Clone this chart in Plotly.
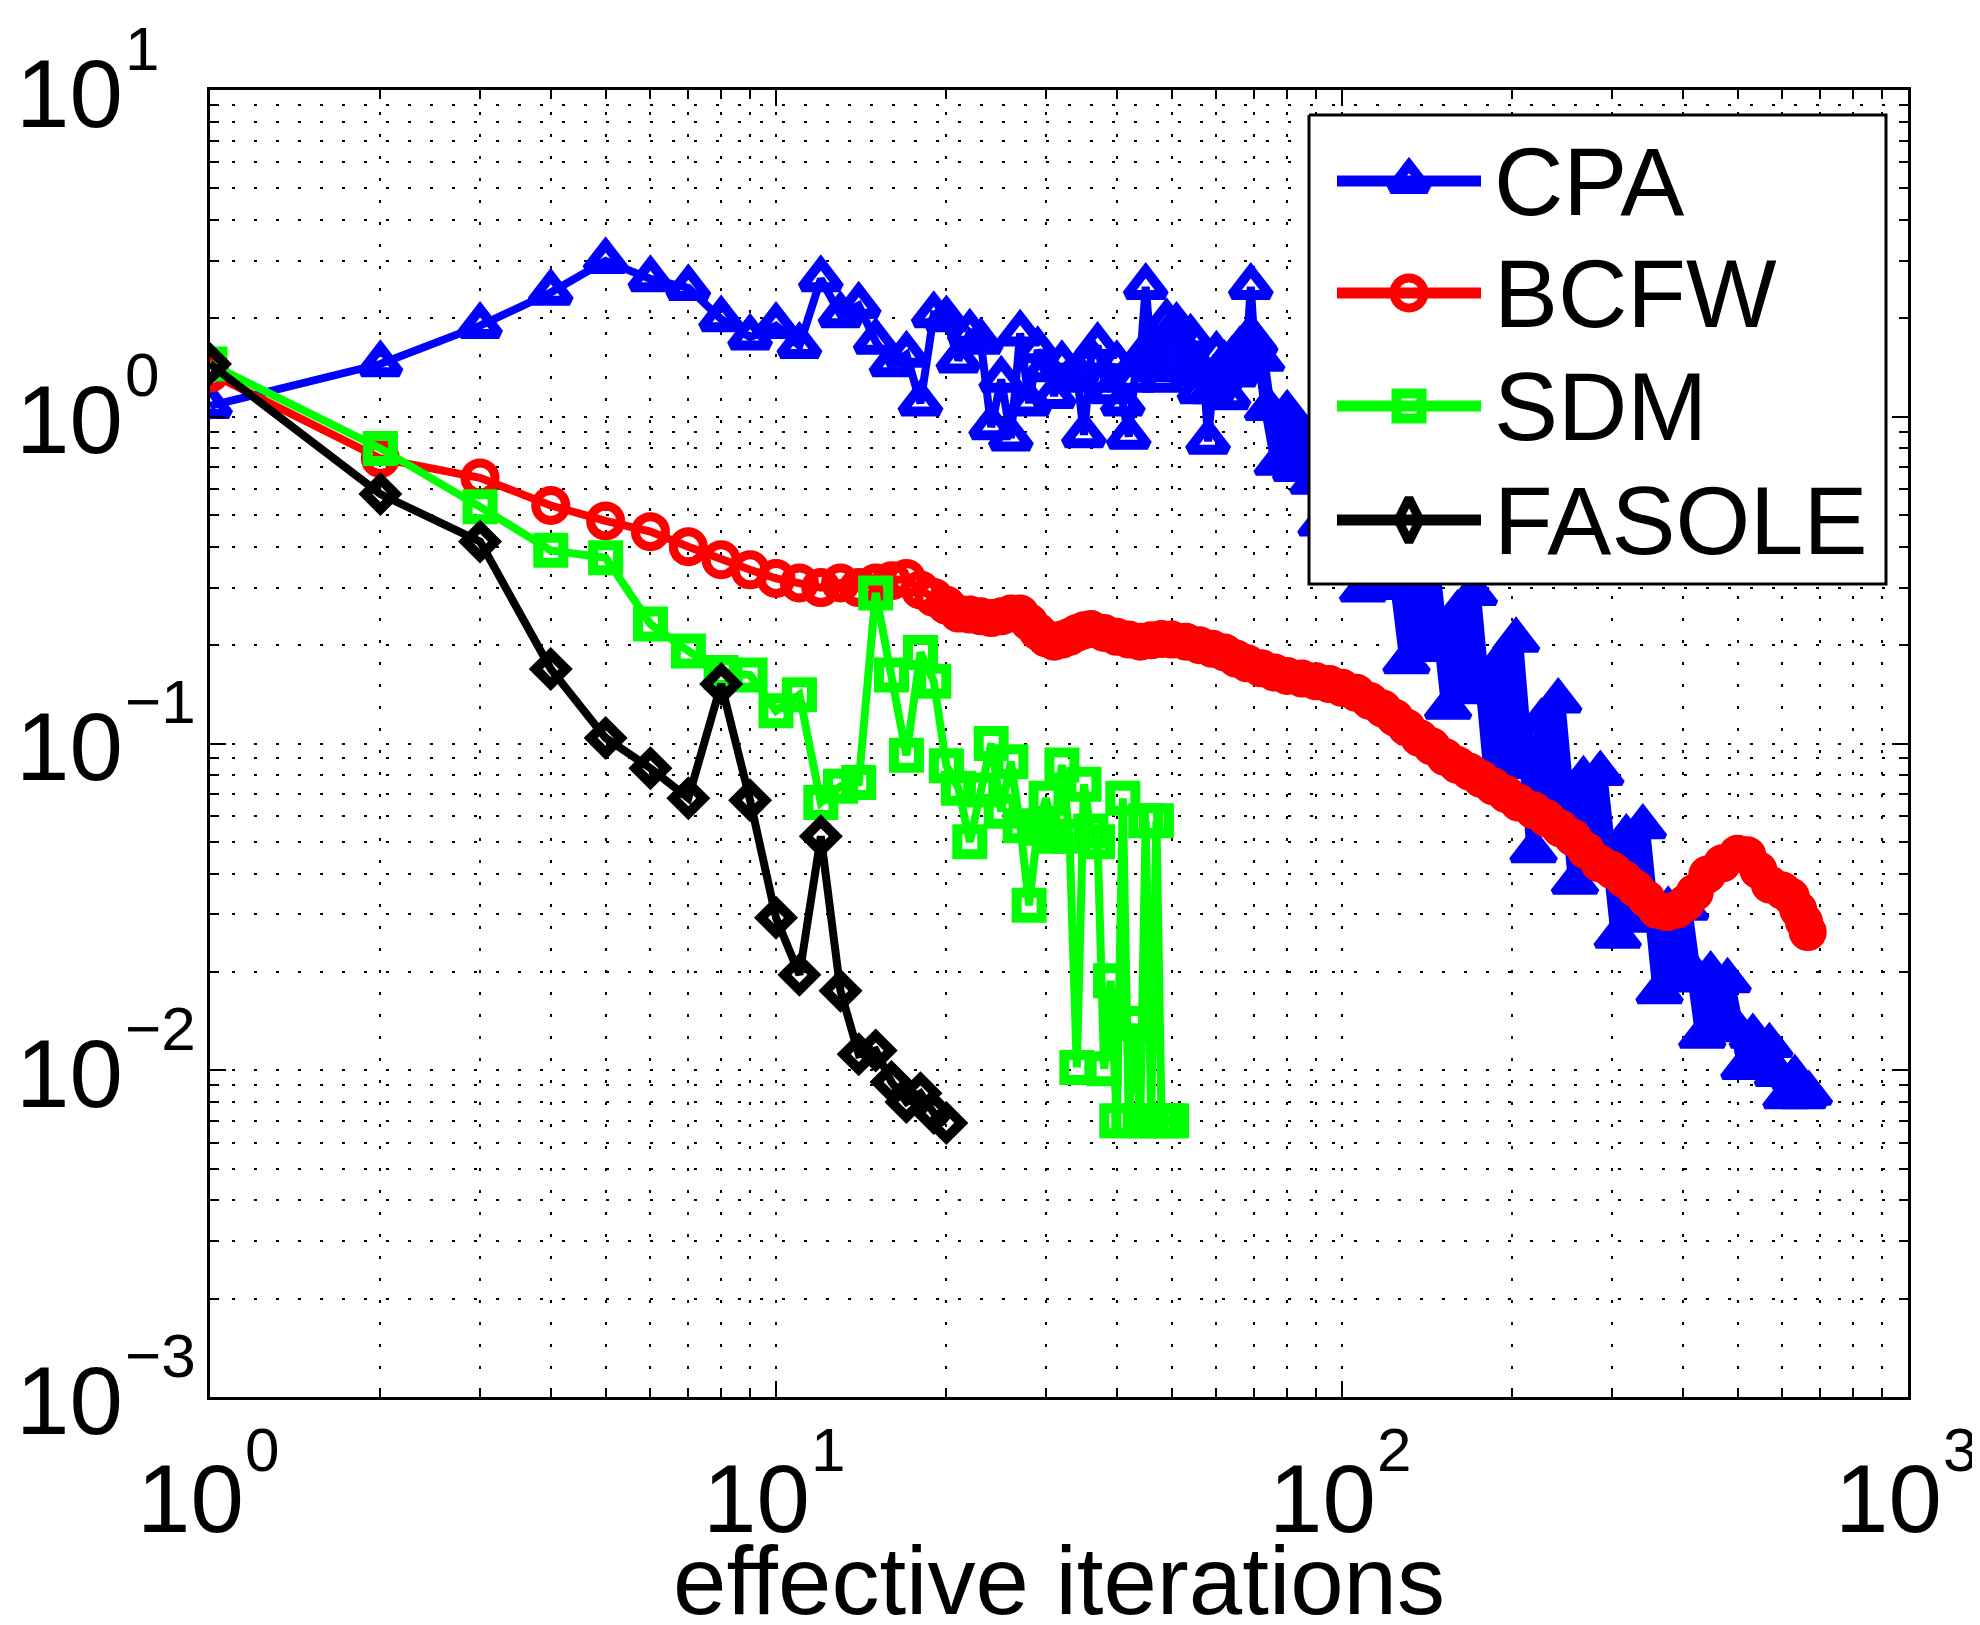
import math
import plotly.graph_objects as go

# ---------------------------------------------------------------------------
# Data (log-log, "effective iterations")
# ---------------------------------------------------------------------------
CPA_X = [1, 2, 3, 4, 5, 6, 7, 8, 9, 10, 11, 12, 13, 14, 15, 16, 17, 18, 19, 20,
         21, 22, 23, 24, 25, 26, 27, 28, 29, 30, 31, 32, 33, 34, 35, 36, 37, 38, 39, 40,
         41, 42, 43, 44, 45, 46, 47, 48, 49, 50, 51, 52, 53, 54, 55, 56, 57, 58, 59, 60,
         61, 62, 63, 64, 65, 66, 67, 68, 69, 70,
         72, 74, 77, 80, 83, 86, 89, 92, 95, 98, 102, 105, 109, 113, 117, 121, 125,
         130, 134, 139, 144, 149, 154, 160, 165, 171, 177, 183, 190, 196, 203, 210,
         218, 225, 233, 241, 250, 258, 267, 277, 286, 296, 307, 318, 329, 340, 352,
         364, 377, 390, 404, 418, 433, 448, 463, 480, 496, 514, 532, 550, 569, 589,
         610, 631, 653, 668]
CPA_Y = [1.08, 1.45, 1.90, 2.40, 3.00, 2.64, 2.48, 1.99, 1.75, 1.90,
         1.65, 2.64, 2.05, 2.19, 1.70, 1.45, 1.55, 1.10, 2.05, 1.99,
         1.49, 1.81, 1.70, 0.93, 1.30, 0.86, 1.80, 1.10, 1.60, 1.40,
         1.16, 1.45, 1.30, 1.36, 0.88, 1.50, 1.65, 1.30, 1.20, 1.45,
         1.10, 0.87, 1.30, 1.50, 2.50, 1.60, 1.40, 1.30, 1.95, 1.70,
         1.90, 1.50, 1.40, 1.75, 1.45, 1.20, 1.35, 0.84, 1.20, 1.55,
         1.30, 1.45, 1.15, 1.50, 1.35, 1.60, 1.40, 1.70, 2.50, 1.70,
         1.50, 1.06, 0.72, 1.03, 0.69, 0.87, 0.63, 0.47, 0.63, 0.45, 0.63, 0.44, 0.295,
         0.45, 0.30, 0.494, 0.318, 0.178, 0.337, 0.194, 0.382, 0.221, 0.129, 0.251,
         0.144, 0.288, 0.156, 0.081, 0.177, 0.085, 0.207, 0.098, 0.047, 0.117, 0.058,
         0.135, 0.068, 0.0376, 0.078, 0.0425, 0.081, 0.046, 0.0257, 0.0518, 0.0288,
         0.0556, 0.0307, 0.0174, 0.0311, 0.0189, 0.0313, 0.0197, 0.0127, 0.0197,
         0.0133, 0.0188, 0.0134, 0.0102, 0.0127, 0.0103, 0.0119, 0.0097, 0.0083,
         0.0095, 0.0083, 0.0085]

BCFW_X = [1, 2, 3, 4, 5, 6, 7, 8, 9, 10, 11, 12, 13, 14, 15, 16, 17, 18, 19, 20,
          21, 22, 23, 24, 25, 26, 27, 28, 29, 30, 31, 32, 33, 34, 35, 36, 38, 40, 42,
          44, 46, 48, 50, 53, 56, 59, 62, 65, 68, 72, 76, 80, 85, 90, 95, 100, 106,
          112, 118, 124, 130, 137, 144, 152, 160, 168, 176, 185, 195, 205, 218, 230,
          243, 256, 270, 285, 300, 315, 330, 345, 360, 375, 390, 405, 420, 442, 470,
          500, 520, 544, 570, 600, 621, 640, 655, 665]
BCFW_Y = [1.36, 0.745, 0.65, 0.535, 0.48, 0.445, 0.40, 0.365, 0.34, 0.32,
          0.31, 0.30, 0.31, 0.30, 0.31, 0.315, 0.32, 0.295, 0.28, 0.265,
          0.25, 0.248, 0.245, 0.242, 0.245, 0.25, 0.25, 0.235, 0.22, 0.21, 0.205,
          0.208, 0.212, 0.218, 0.222, 0.224, 0.218, 0.212, 0.208, 0.205, 0.207,
          0.209, 0.208, 0.205, 0.20, 0.195, 0.19, 0.182, 0.176, 0.17, 0.165, 0.161,
          0.158, 0.155, 0.152, 0.148, 0.143, 0.135, 0.128, 0.12, 0.112, 0.104,
          0.098, 0.091, 0.086, 0.082, 0.078, 0.074, 0.070, 0.066, 0.0625, 0.059,
          0.055, 0.0515, 0.047, 0.043, 0.041, 0.0385, 0.036, 0.0335, 0.031, 0.0305,
          0.031, 0.0325, 0.035, 0.0397, 0.043, 0.046, 0.0455, 0.041, 0.037, 0.0355,
          0.034, 0.031, 0.0285, 0.0265]

SDM_X = [1, 2, 3, 4, 5, 6, 7, 8, 9, 10, 11, 12, 13, 14, 15, 16, 17, 18, 19, 20,
         21, 22, 23, 24, 25, 26, 27, 28, 29, 30, 31, 32, 33, 34, 35, 36, 37, 38, 39,
         40, 41, 42, 43, 44, 45, 46, 47, 48, 49, 50]
SDM_Y = [1.45, 0.80, 0.53, 0.39, 0.37, 0.232, 0.192, 0.165, 0.162, 0.126,
         0.141, 0.066, 0.074, 0.076, 0.289, 0.162, 0.092, 0.19, 0.155, 0.0855,
         0.073, 0.050, 0.072, 0.100, 0.062, 0.088, 0.056, 0.032, 0.055, 0.068,
         0.052, 0.086, 0.052, 0.0102, 0.075, 0.054, 0.050, 0.0101, 0.0188, 0.0070,
         0.068, 0.0070, 0.0139, 0.0070, 0.058, 0.0070, 0.058, 0.0070, 0.0070, 0.0070]

FASOLE_X = [1, 2, 3, 4, 5, 6, 7, 8, 9, 10, 11, 12, 13, 14, 15, 16, 17, 18, 19, 20]
FASOLE_Y = [1.45, 0.58, 0.415, 0.169, 0.104, 0.084, 0.068, 0.152, 0.067, 0.0293,
            0.0196, 0.052, 0.0175, 0.0112, 0.0115, 0.0092, 0.0080, 0.0085, 0.0074,
            0.0069]

X_TICKS = [1, 10, 100, 1000]
X_EXPONENTS = ["0", "1", "2", "3"]
Y_TICKS = [0.001, 0.01, 0.1, 1, 10]
Y_EXPONENTS = ["−3", "−2", "−1", "0", "1"]
X_MINOR = [2, 3, 4, 5, 6, 7, 8, 9, 20, 30, 40, 50, 60, 70, 80, 90,
           200, 300, 400, 500, 600, 700, 800, 900]
Y_MINOR = [0.002, 0.003, 0.004, 0.005, 0.006, 0.007, 0.008, 0.009,
           0.02, 0.03, 0.04, 0.05, 0.06, 0.07, 0.08, 0.09,
           0.2, 0.3, 0.4, 0.5, 0.6, 0.7, 0.8, 0.9,
           2, 3, 4, 5, 6, 7, 8, 9]

LABELS = ["CPA", "BCFW", "SDM", "FASOLE"]
X_TITLE = "effective iterations"

BLUE, RED, GREEN, BLACK = "#0000ff", "#ff0000", "#00ff00", "#000000"
FONT = "Liberation Sans, Arial, Helvetica, sans-serif"
BIG, SUP = 96, 62
LW = 8

fig = go.Figure()


def add_series(x, y, color, symbol, size, mwidth, filled=False, lw=LW):
    fig.add_trace(go.Scatter(
        x=x, y=y, mode="lines+markers", showlegend=False,
        line=dict(color=color, width=lw),
        marker=dict(symbol=symbol, size=size,
                    color=color if filled else "rgba(0,0,0,0)",
                    line=dict(color=color, width=mwidth)),
        hoverinfo="x+y",
    ))


# where the markers pile up into a solid band (drawn with filled markers)
cpa_cut = CPA_X.index(70) + 1
bcfw_cut = BCFW_X.index(20) + 1

add_series(CPA_X[:cpa_cut], CPA_Y[:cpa_cut], BLUE, "triangle-up", 33, 10)
add_series(CPA_X[cpa_cut - 1:], CPA_Y[cpa_cut - 1:], BLUE, "triangle-up", 38, 6,
           filled=True, lw=14)
add_series(BCFW_X[:bcfw_cut], BCFW_Y[:bcfw_cut], RED, "circle", 30, 9)
add_series(BCFW_X[bcfw_cut - 1:], BCFW_Y[bcfw_cut - 1:], RED, "circle", 31, 7,
           filled=True)
add_series(SDM_X, SDM_Y, GREEN, "square", 25, 10)
add_series(FASOLE_X, FASOLE_Y, BLACK, "diamond", 23, 10)

# ---------------------------------------------------------------------------
# MATLAB-style legend box, drawn on an overlay axis in pixel units
# ---------------------------------------------------------------------------
L_LEFT, L_RIGHT, L_TOP, L_BOT = 1301, 1878, 107, 576
ROWS = [173, 285, 398, 512]
SEG = (1329, 1473)
LEG_MARK = [("triangle-up", 32, 10), ("circle", 30, 9),
            ("square", 25, 10), ("diamond-tall", 31, 9)]
LEG_COL = [BLUE, RED, GREEN, BLACK]

ov = dict(xaxis="x2", yaxis="y2", showlegend=False, hoverinfo="skip")
fig.add_trace(go.Scatter(
    x=[L_LEFT, L_RIGHT, L_RIGHT, L_LEFT, L_LEFT],
    y=[L_TOP, L_TOP, L_BOT, L_BOT, L_TOP],
    mode="lines", fill="toself", fillcolor="white",
    line=dict(color="black", width=3), **ov))
for row, name, col, (sym, sz, mw) in zip(ROWS, LABELS, LEG_COL, LEG_MARK):
    fig.add_trace(go.Scatter(x=list(SEG), y=[row, row], mode="lines",
                             line=dict(color=col, width=11), **ov))
    fig.add_trace(go.Scatter(x=[(SEG[0] + SEG[1]) / 2], y=[row], mode="markers",
                             marker=dict(symbol=sym, size=sz, color="rgba(0,0,0,0)",
                                         line=dict(color=col, width=mw)), **ov))
    fig.add_annotation(x=1484, y=row, xref="x2", yref="y2", text=name,
                       showarrow=False, xanchor="left", yanchor="middle",
                       font=dict(family=FONT, size=BIG, color="black"))

# ---------------------------------------------------------------------------
# MATLAB-style "10^n" tick labels (large raised exponent)
# ---------------------------------------------------------------------------
txt = dict(showarrow=False, yanchor="middle")
for v, e in zip(X_TICKS, X_EXPONENTS):
    fig.add_annotation(x=math.log10(v), xref="x", y=0, yref="paper", text="10",
                       xanchor="right", xshift=36, yshift=-101,
                       font=dict(family=FONT, size=BIG, color="black"), **txt)
    fig.add_annotation(x=math.log10(v), xref="x", y=0, yref="paper", text=e,
                       xanchor="left", xshift=33, yshift=-52,
                       font=dict(family=FONT, size=SUP, color="black"), **txt)
for v, e in zip(Y_TICKS, Y_EXPONENTS):
    fig.add_annotation(x=0, xref="paper", y=math.log10(v), yref="y", text="10",
                       xanchor="right", xshift=-85, yshift=-3,
                       font=dict(family=FONT, size=BIG, color="black"), **txt)
    fig.add_annotation(x=0, xref="paper", y=math.log10(v), yref="y", text=e,
                       xanchor="left", xshift=-87, yshift=42,
                       font=dict(family=FONT, size=SUP, color="black"), **txt)
fig.add_annotation(x=0.5, xref="paper", y=0, yref="paper", text=X_TITLE,
                   xanchor="center", yshift=-183,
                   font=dict(family=FONT, size=BIG, color="black"), **txt)

grid = dict(showgrid=True, gridcolor="black", gridwidth=2, griddash="3px,19px")
minor_common = dict(ticks="inside", ticklen=9, tickwidth=2, tickcolor="black", **grid)
axis_common = dict(
    ticks="inside", ticklen=16, tickwidth=2, tickcolor="black",
    showline=True, linecolor="black", linewidth=3, mirror="allticks",
    showticklabels=False, automargin=False, zeroline=False, **grid,
)

fig.update_layout(
    width=1980, height=1625,
    margin=dict(l=202, r=80, t=82, b=236, pad=0),
    paper_bgcolor="white", plot_bgcolor="white",
    font=dict(family=FONT, size=BIG, color="black"),
    showlegend=False,
    xaxis=dict(type="log", range=[0, 3], tickmode="array", tickvals=X_TICKS,
               minor=dict(tickmode="array", tickvals=X_MINOR, **minor_common),
               **axis_common),
    yaxis=dict(type="log", range=[-3, 1], tickmode="array", tickvals=Y_TICKS,
               minor=dict(tickmode="array", tickvals=Y_MINOR, **minor_common),
               **axis_common),
    xaxis2=dict(overlaying="x", range=[202, 1900], visible=False, fixedrange=True),
    yaxis2=dict(overlaying="y", range=[1389, 82], visible=False, fixedrange=True),
)

fig.write_html("out.html")
